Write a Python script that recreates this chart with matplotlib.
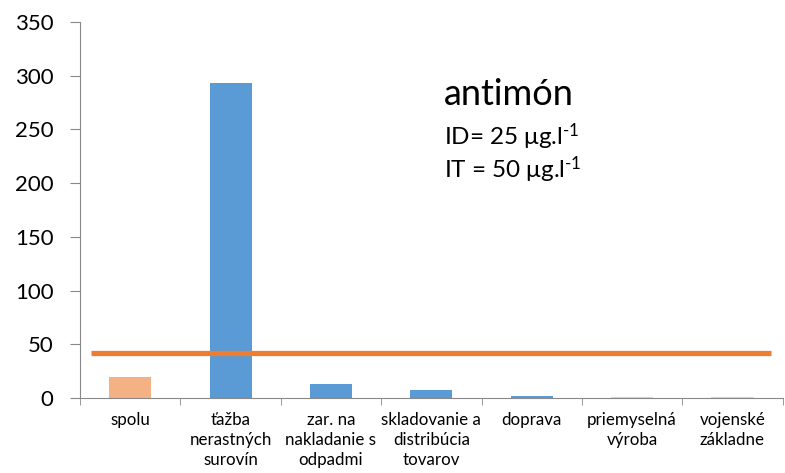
import matplotlib
matplotlib.use('Agg')
import matplotlib.pyplot as plt
import numpy as np

# Kategórie a hodnoty (odčítané z grafu)
categories = ['spolu', 'ťažba\nnerastných\nsurovín', 'zar. na\nnakladanie s\nodpadmi',
              'skladovanie a\ndistribúcia\ntovarov', 'doprava', 'priemyselná\nvýroba',
              'vojenské\nzákladne']
values = [19.5, 293, 13, 7.5, 1.5, 0.6, 0.6]
bar_colors = ['#F4B183', '#5B9BD5', '#5B9BD5', '#5B9BD5', '#5B9BD5', '#C9DCEF', '#C9DCEF']
limit_value = 42
y_ticks = [0, 50, 100, 150, 200, 250, 300, 350]

plt.rcParams['font.family'] = ['Lato', 'DejaVu Sans']
plt.rcParams['mathtext.fontset'] = 'custom'
plt.rcParams['mathtext.rm'] = 'Lato'
plt.rcParams['mathtext.it'] = 'Lato'

fig = plt.figure(figsize=(7.85, 4.73), dpi=100)
ax = fig.add_axes([0.102, 0.1586, 0.895, 0.795])

x = np.arange(len(categories))
ax.bar(x, values, width=0.42, color=bar_colors, zorder=2)
ax.plot([-0.39, len(categories) - 0.62], [limit_value, limit_value],
        color='#ED7D31', linewidth=3.8, solid_capstyle='butt', zorder=3)

ax.set_xlim(-0.5, len(categories) - 0.5)
ax.set_ylim(0, 350)
ax.set_yticks(y_ticks)
ax.tick_params(axis='y', labelsize=16, length=7, color='#888888', pad=12)

# x-ové značky na hraniciach kategórií
ax.set_xticks(x)
ax.set_xticklabels(categories, fontsize=12.2, linespacing=1.33)
ax.set_xticks(np.arange(len(categories) + 1) - 0.5, minor=True)
ax.tick_params(axis='x', which='major', length=0, pad=10)
ax.tick_params(axis='x', which='minor', length=5, color='#888888')

for side in ['top', 'right']:
    ax.spines[side].set_visible(False)
for side in ['left', 'bottom']:
    ax.spines[side].set_color('#888888')

ax.text(0.518, 0.78, 'antimón', transform=ax.transAxes, fontsize=26)
ax.text(0.518, 0.673, r'ID= 25 μg.l$^{\text{-1}}$', transform=ax.transAxes, fontsize=17.5)
ax.text(0.518, 0.585, r'IT = 50 μg.l$^{\text{-1}}$', transform=ax.transAxes, fontsize=17.5)

plt.savefig('out.png', dpi=100)
